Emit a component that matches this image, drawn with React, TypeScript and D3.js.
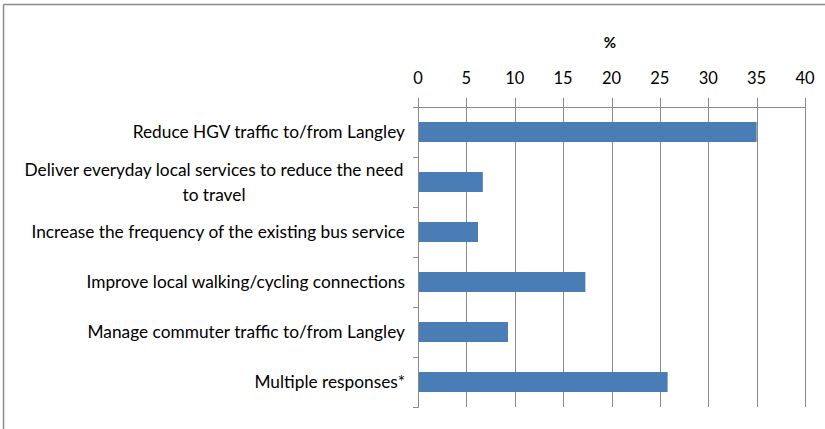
import React from "react";
import * as d3 from "d3";

const categories: string[][] = [
  ["Reduce HGV traffic to/from Langley"],
  ["Deliver everyday local services to reduce the need", "to travel"],
  ["Increase the frequency of the existing bus service"],
  ["Improve local walking/cycling connections"],
  ["Manage commuter traffic to/from Langley"],
  ["Multiple responses*"],
];
const values: number[] = [35.0, 6.7, 6.2, 17.3, 9.3, 25.8];
const xTicks: number[] = [0, 5, 10, 15, 20, 25, 30, 35, 40];
const axisTitle = "%";

const W = 825;
const H = 429;
const FONT = "Lato, 'Open Sans', sans-serif";
const LABEL_SIZE = 17.3;

export default function App() {
  const x = d3.scaleLinear().domain([0, 40]).range([418, 805]);
  const keys = categories.map((_, i) => String(i));
  const y = d3
    .scaleBand<string>()
    .domain(keys)
    .range([107, 407])
    .paddingInner(0.6)
    .paddingOuter(0.3);
  const step = y.step();
  const grid = "#8a8a8a";

  return (
    <svg
      width={W}
      height={H}
      style={{ position: "absolute", left: 0, top: 0, background: "#fff" }}
    >
      {/* outer frame */}
      <line x1={3.5} y1={4.5} x2={W} y2={4.5} stroke="#8c8c8c" strokeWidth={1.5} />
      <line x1={3.5} y1={4.5} x2={3.5} y2={H} stroke="#8c8c8c" strokeWidth={1.5} />

      <text
        x={610}
        y={48}
        textAnchor="middle"
        fontFamily={FONT}
        fontWeight="bold"
        fontSize={15}
        fill="#000"
      >
        {axisTitle}
      </text>

      {/* gridlines and top ticks */}
      {xTicks.map((t) => (
        <g key={t}>
          <line
            x1={Math.round(x(t)) + 0.5}
            x2={Math.round(x(t)) + 0.5}
            y1={98}
            y2={407}
            stroke={grid}
            strokeWidth={1}
          />
          <text
            x={x(t)}
            y={78}
            dy="0.35em"
            textAnchor="middle"
            fontFamily={FONT}
            fontSize={16.5}
            fill="#000"
          >
            {t}
          </text>
        </g>
      ))}
      {/* top axis line */}
      <line x1={413} x2={805.5} y1={107.5} y2={107.5} stroke={grid} strokeWidth={1} />

      {/* bars */}
      {values.map((v, i) => (
        <rect
          key={i}
          x={x(0)}
          y={y(keys[i])}
          width={x(v) - x(0)}
          height={y.bandwidth()}
          fill="#4a7cb6"
        />
      ))}

      {/* left axis */}
      <line x1={418.5} x2={418.5} y1={102} y2={407.5} stroke={grid} strokeWidth={1} />
      {d3.range(categories.length + 1).map((k) => (
        <line
          key={k}
          x1={413}
          x2={418.5}
          y1={Math.round(107 + k * step) + 0.5}
          y2={Math.round(107 + k * step) + 0.5}
          stroke={grid}
          strokeWidth={1}
        />
      ))}

      {/* category labels */}
      {categories.map((lines, i) => {
        const cy = (y(keys[i]) as number) + y.bandwidth() / 2;
        const lh = 25;
        if (lines.length === 1) {
          return (
            <text
              key={i}
              x={405}
              y={cy}
              dy="0.35em"
              textAnchor="end"
              fontFamily={FONT}
              fontSize={LABEL_SIZE}
              fill="#000"
            >
              {lines[0]}
            </text>
          );
        }
        return (
          <text
            key={i}
            x={214}
            textAnchor="middle"
            fontFamily={FONT}
            fontSize={LABEL_SIZE}
            fill="#000"
          >
            {lines.map((l, j) => (
              <tspan
                key={j}
                x={214}
                y={cy + (j - (lines.length - 1) / 2) * lh}
                dy="0.35em"
              >
                {l}
              </tspan>
            ))}
          </text>
        );
      })}
    </svg>
  );
}
